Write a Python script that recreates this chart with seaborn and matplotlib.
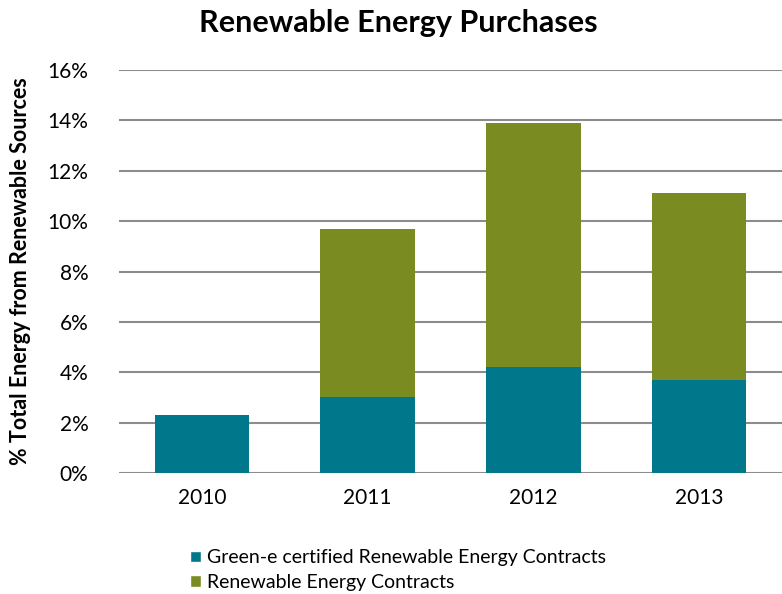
import matplotlib
matplotlib.use("Agg")
import matplotlib.pyplot as plt
import seaborn as sns
import pandas as pd
from matplotlib.patches import Patch

years = ["2010", "2011", "2012", "2013"]
green_e = [2.3, 3.0, 4.2, 3.7]
renewable = [0.0, 6.7, 9.7, 7.4]
series_names = ["Green-e certified Renewable Energy Contracts", "Renewable Energy Contracts"]
yticks = [0, 2, 4, 6, 8, 10, 12, 14, 16]

teal = "#00778B"
olive = "#7A8C21"

sns.set_theme(style="white")
plt.rcParams['font.family'] = ['Lato', 'DejaVu Sans']
plt.rcParams['text.color'] = 'black'
plt.rcParams['xtick.color'] = 'black'
plt.rcParams['ytick.color'] = 'black'
plt.rcParams['axes.labelcolor'] = 'black'

totals = [g + r for g, r in zip(green_e, renewable)]
df = pd.DataFrame({"year": years, "green_e": green_e, "total": totals})

fig = plt.figure(figsize=(7.82, 5.94), dpi=100)
ax = fig.add_axes([0.152, 0.2037, 0.848, 0.6783])

sns.barplot(data=df, x="year", y="total", color=olive, width=0.57, ax=ax,
            saturation=1, zorder=3, linewidth=0, edgecolor="none")
sns.barplot(data=df, x="year", y="green_e", color=teal, width=0.57, ax=ax,
            saturation=1, zorder=3, linewidth=0, edgecolor="none")

ax.set_ylim(0, 16)
ax.set_yticks(yticks)
ax.set_yticklabels([f"{v}%" for v in yticks], fontsize=15)
ax.tick_params(axis='x', labelsize=15, length=0, pad=11)
ax.tick_params(axis='y', length=0, pad=22)
ax.yaxis.grid(True, color="#8c8c8c", linewidth=1.5, zorder=0)
ax.set_axisbelow(True)
for s in ax.spines.values():
    s.set_visible(False)
ax.set_xlabel("")
ax.set_ylabel("% Total Energy from Renewable Sources", fontsize=15.5, fontweight="bold")
ax.yaxis.set_label_coords(-0.133, 0.5)

fig.text(0.509, 0.962, "Renewable Energy Purchases", ha="center", va="center",
         fontsize=22, fontweight="bold")

handles = [Patch(facecolor=teal), Patch(facecolor=olive)]
leg = fig.legend(handles, series_names, loc="upper left",
                 frameon=False, fontsize=14, handlelength=0.55, handleheight=0.55,
                 handletextpad=0.3, labelspacing=0.4, borderaxespad=0, borderpad=0)
leg.set_bbox_to_anchor((0.243, 0.075), transform=fig.transFigure)

fig.savefig("out.png", dpi=100)
